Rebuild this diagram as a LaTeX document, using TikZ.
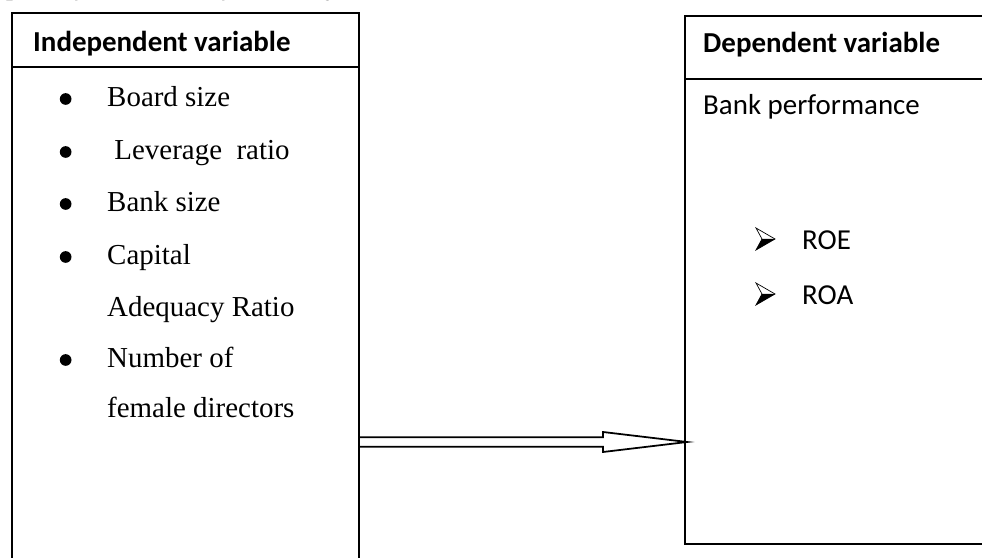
\documentclass[tikz,border=0pt]{standalone}
\usepackage{fontspec}
\setmainfont{Liberation Serif}
\newfontfamily\calibri{Carlito}
\usepackage{tikz}
\usetikzlibrary{calc}

\tikzset{
  box/.style={draw, line width=1.6pt, inner sep=0pt},
  rule/.style={line width=1.7pt},
  txt/.style={inner sep=0pt, anchor=base west, font=\fontsize{24.7}{30}\selectfont},
  head/.style={inner sep=0pt, anchor=base west, font=\calibri\bfseries\fontsize{24.7}{30}\selectfont},
  item/.style={inner sep=0pt, anchor=base west, font=\calibri\fontsize{24.7}{30}\selectfont},
}

\begin{document}
\begin{tikzpicture}
  \useasboundingbox (0,0) rectangle (29.46,16.74);
  \clip (0,0) rectangle (29.46,16.74);

  % caption line, mostly above the page
  \node[txt, font=\itshape\fontsize{24.7}{30}\selectfont] (cap) at (-1.98,16.91) {Conceptual framework of the study};

  % the two boxes
  \node[box, anchor=north west, minimum width=10.41cm, minimum height=17.5cm] (indep) at (0.33,16.38) {};
  \node[box, anchor=north west, minimum width=9.8cm, minimum height=15.84cm] (dep) at (20.52,16.29) {};
  \draw[rule] (indep.west |- 0,14.73) -- (indep.east |- 0,14.73);
  \draw[rule] (dep.west |- 0,14.37) -- (dep.east |- 0,14.37);

  % left box
  \node[head] (ih) at (0.99,15.18) {Independent variable};
  \node[txt] (b1) at (3.21,13.53) {Board size};
  \node[txt] (b2) at (3.21,11.94) {\ Leverage\ \ ratio};
  \node[txt] (b3) at (3.21,10.38) {Bank size};
  \node[txt] (b4) at (3.21,8.79) {Capital};
  \node[txt] (b5) at (3.21,7.23) {Adequacy Ratio};
  \node[txt] (b6) at (3.21,5.70) {Number of};
  \node[txt] (b7) at (3.21,4.20) {female directors};
  \foreach \n in {b1,b2,b3,b4,b6}
    \fill ($(\n.base west)+(-1.24,0.24)$) circle (0.175);

  % right box
  \node[head] (dh) at (21.09,15.15) {Dependent variable};
  \node[item] (perf) at (21.09,13.29) {Bank performance};
  \node[item] (roe) at (24.06,9.24) {ROE};
  \node[item] (roa) at (24.06,7.59) {ROA};
  \foreach \n in {roe,roa} {
    \coordinate (p) at ($(\n.base west)+(-1.38,0)$);
    \fill ($(p)+(0.18,0.33)$) -- ($(p)+(0.57,0.33)$) -- (p) -- cycle;
    \draw[line width=0.6pt, line join=miter] (p) -- ($(p)+(0.18,0.33)$) -- ($(p)+(0,0.66)$) -- ($(p)+(0.57,0.33)$) -- cycle;
  }

  % hollow arrow between the boxes
  \coordinate (a) at (indep.east |- 0,3.48);
  \coordinate (b) at ([xshift=0.09cm]dep.west |- 0,3.48);
  \draw[line width=1.5pt, line join=miter] ($(a)+(0,0.144)$) -- ($(b)+(-2.52,0.144)$) -- ($(b)+(-2.52,0.3)$)
    -- (b) -- ($(b)+(-2.52,-0.3)$) -- ($(b)+(-2.52,-0.144)$) -- ($(a)+(0,-0.144)$);
\end{tikzpicture}
\end{document}
